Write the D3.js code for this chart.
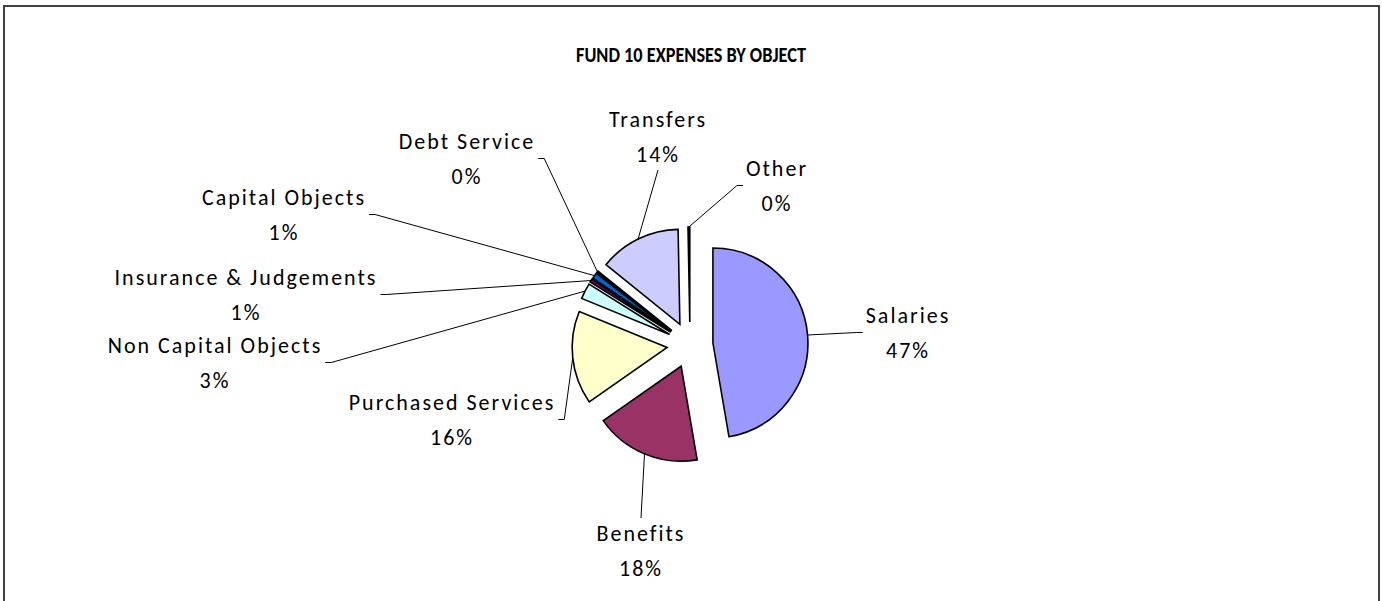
<!DOCTYPE html>
<html>
<head>
<meta charset="utf-8">
<script src="https://cdn.jsdelivr.net/npm/d3@7"></script>
<style>
  html, body { margin: 0; padding: 0; background: #fff; }
  svg { display: block; }
  text { font-family: Carlito, Calibri, Lato, sans-serif; fill: #000; }
</style>
</head>
<body>
<svg id="chart" width="1382" height="601"></svg>
<script>
// Fund 10 expenses, share of total by object
const categories = [
  "Salaries", "Benefits", "Purchased Services", "Non Capital Objects",
  "Insurance & Judgements", "Capital Objects", "Debt Service", "Transfers", "Other"
];
const shares = [47.3, 18.0, 15.9, 2.7, 0.6, 1.0, 0.3, 13.9, 0.3];
const sliceColors = [
  "#9999FF", "#993366", "#FFFFCC", "#CCFFFF",
  "#660066", "#0066CC", "#000080", "#CCCCFF", "#000080"
];
const title = "FUND 10 EXPENSES BY OBJECT";

// Label placement: centre x, baseline of the name line, side the leader leaves from
const labelLayout = [
  { x: 908, y: 323, side: "left" },
  { x: 641, y: 541, side: "top" },
  { x: 452, y: 410, side: "right" },
  { x: 215, y: 353, side: "right" },
  { x: 246, y: 285, side: "right" },
  { x: 284, y: 205, side: "right" },
  { x: 467, y: 149, side: "right" },
  { x: 658, y: 127, side: "bottom" },
  { x: 777, y: 176, side: "left" }
];

const svg = d3.select("#chart");

// Chart area frame
svg.append("rect")
  .attr("x", 4).attr("y", 6)
  .attr("width", 1375).attr("height", 620)
  .attr("fill", "#fff")
  .attr("stroke", "#404040")
  .attr("stroke-width", 2);

// Title: bold, set in a condensed width
svg.append("text")
  .attr("x", 691).attr("y", 62)
  .attr("text-anchor", "middle")
  .attr("font-size", 22)
  .attr("font-weight", "bold")
  .attr("textLength", 230)
  .attr("lengthAdjust", "spacingAndGlyphs")
  .text(title);

const cx = 690, cy = 345, radius = 95, explode = 23;
const lineGap = 35;
const labelFont = 22, labelSpacing = 2;

const data = categories.map((c, i) => ({ name: c, value: shares[i], color: sliceColors[i], layout: labelLayout[i] }));
const total = d3.sum(shares);

const pie = d3.pie().sort(null).value(d => d.value).startAngle(0).endAngle(2 * Math.PI);
const arc = d3.arc().innerRadius(0).outerRadius(radius);
const arcs = pie(data);

const g = svg.append("g").attr("transform", `translate(${cx},${cy})`);

function offset(d, dist) {
  const a = (d.startAngle + d.endAngle) / 2;
  return [dist * Math.sin(a), -dist * Math.cos(a)];
}

g.selectAll("path.slice")
  .data(arcs)
  .join("path")
  .attr("class", "slice")
  .attr("transform", d => { const o = offset(d, explode); return `translate(${o[0]},${o[1]})`; })
  .attr("d", arc)
  .attr("fill", d => d.data.color)
  .attr("stroke", "#000")
  .attr("stroke-width", 1.6)
  .attr("stroke-linejoin", "miter");

// Labels: category name with rounded percentage below
const labels = svg.append("g");
arcs.forEach(d => {
  const L = d.data.layout;
  const pct = Math.round(d.data.value / total * 100) + "%";
  const t = labels.append("text")
    .attr("text-anchor", "middle")
    .attr("font-size", labelFont)
    .attr("letter-spacing", labelSpacing);
  t.append("tspan").attr("x", L.x).attr("y", L.y).text(d.data.name);
  t.append("tspan").attr("x", L.x).attr("y", L.y + lineGap).text(pct);
  const bb = t.node().getBBox();

  // leader from the label to the middle of the slice's outer edge
  const o = offset(d, explode);
  const e = offset(d, radius);
  const sx = cx + o[0] + e[0], sy = cy + o[1] + e[1];
  const midY = L.y + lineGap / 2 - 8;
  let pts;
  if (L.side === "right") {
    const x0 = bb.x + bb.width + 3;
    pts = [[x0, midY], [x0 + 6, midY], [sx, sy]];
  } else if (L.side === "left") {
    const x0 = bb.x - 3;
    pts = [[x0, midY], [x0 - 6, midY], [sx, sy]];
  } else if (L.side === "top") {
    pts = [[L.x, bb.y - 2], [sx, sy]];
  } else {
    pts = [[L.x, bb.y + bb.height + 2], [sx, sy]];
  }
  labels.append("path")
    .attr("d", d3.line()(pts))
    .attr("fill", "none")
    .attr("stroke", "#000")
    .attr("stroke-width", 1);
});
</script>
</body>
</html>
